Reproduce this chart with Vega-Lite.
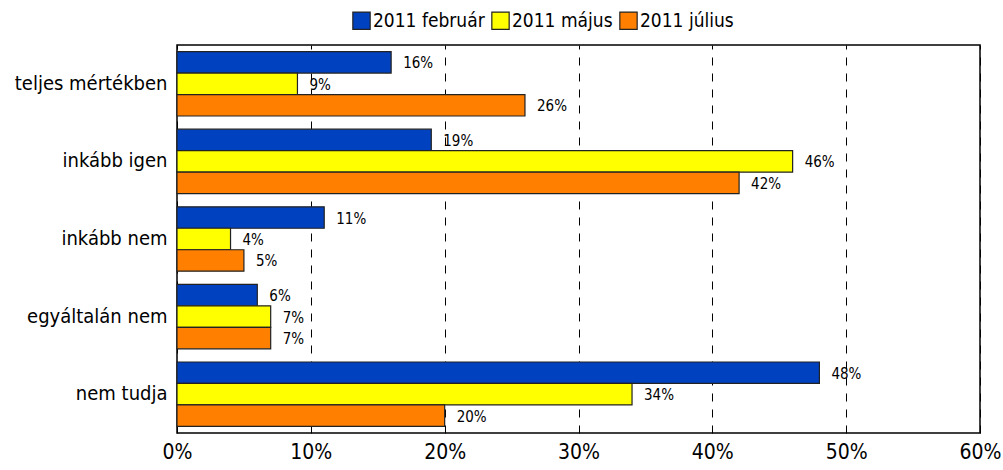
{
  "$schema": "https://vega.github.io/schema/vega-lite/v6.json",
  "width": 803,
  "height": 388,
  "autosize": "none",
  "padding": {"left": 177, "top": 45, "right": 23, "bottom": 37},
  "background": "white",
  "config": {
    "font": "DejaVu Sans Condensed",
    "view": {"stroke": "black", "strokeWidth": 1.5},
    "axis": {"labelFont": "DejaVu Sans Condensed", "labelColor": "black"},
    "legend": {"labelFont": "DejaVu Sans Condensed"},
    "text": {"font": "DejaVu Sans Condensed"}
  },
  "data": {
    "values": [
      {"cat": "teljes mértékben", "series": "2011 február", "v": 16},
      {"cat": "teljes mértékben", "series": "2011 május", "v": 9},
      {"cat": "teljes mértékben", "series": "2011 július", "v": 26},
      {"cat": "inkább igen", "series": "2011 február", "v": 19},
      {"cat": "inkább igen", "series": "2011 május", "v": 46},
      {"cat": "inkább igen", "series": "2011 július", "v": 42},
      {"cat": "inkább nem", "series": "2011 február", "v": 11},
      {"cat": "inkább nem", "series": "2011 május", "v": 4},
      {"cat": "inkább nem", "series": "2011 július", "v": 5},
      {"cat": "egyáltalán nem", "series": "2011 február", "v": 6},
      {"cat": "egyáltalán nem", "series": "2011 május", "v": 7},
      {"cat": "egyáltalán nem", "series": "2011 július", "v": 7},
      {"cat": "nem tudja", "series": "2011 február", "v": 48},
      {"cat": "nem tudja", "series": "2011 május", "v": 34},
      {"cat": "nem tudja", "series": "2011 július", "v": 20}
    ]
  },
  "encoding": {
    "y": {
      "field": "cat",
      "type": "nominal",
      "sort": ["teljes mértékben", "inkább igen", "inkább nem", "egyáltalán nem", "nem tudja"],
      "scale": {"paddingInner": 0.17, "paddingOuter": 0.085},
      "axis": {"title": null, "labelFontSize": 20, "labelPadding": 10, "ticks": false, "domain": false}
    },
    "yOffset": {
      "field": "series",
      "type": "nominal",
      "sort": ["2011 február", "2011 május", "2011 július"]
    },
    "x": {
      "field": "v",
      "type": "quantitative",
      "scale": {"domain": [0, 60]},
      "axis": {
        "title": null,
        "values": [0, 10, 20, 30, 40, 50, 60],
        "labelExpr": "datum.value + '%'",
        "labelFontSize": 21,
        "labelPadding": 8,
        "labelFlush": false,
        "labelOverlap": false,
        "ticks": false,
        "domain": false,
        "grid": true,
        "gridColor": "black",
        "gridDash": [8, 8],
        "gridWidth": 1,
        "gridOpacity": 1
      }
    }
  },
  "layer": [
    {
      "mark": {"type": "bar", "stroke": "#222", "strokeWidth": 1.2},
      "encoding": {
        "color": {
          "field": "series",
          "type": "nominal",
          "sort": ["2011 február", "2011 május", "2011 július"],
          "scale": {"domain": ["2011 február", "2011 május", "2011 július"], "range": ["#0041C0", "#FFFF00", "#FF8000"]},
          "legend": {
            "title": null,
            "orient": "none",
            "legendX": 175,
            "legendY": -34,
            "direction": "horizontal",
            "symbolType": "square",
            "symbolSize": 300,
            "symbolStrokeColor": "#222",
            "symbolStrokeWidth": 1.2,
            "symbolOpacity": 1,
            "labelFontSize": 19,
            "labelColor": "black",
            "columnPadding": 4,
            "labelOffset": 2
          }
        }
      }
    },
    {
      "transform": [{"calculate": "datum.v + '%'", "as": "label"}],
      "mark": {"type": "text", "align": "left", "dx": 12, "dy": 1, "fontSize": 15, "color": "black"},
      "encoding": {
        "text": {"field": "label", "type": "nominal"}
      }
    }
  ]
}
